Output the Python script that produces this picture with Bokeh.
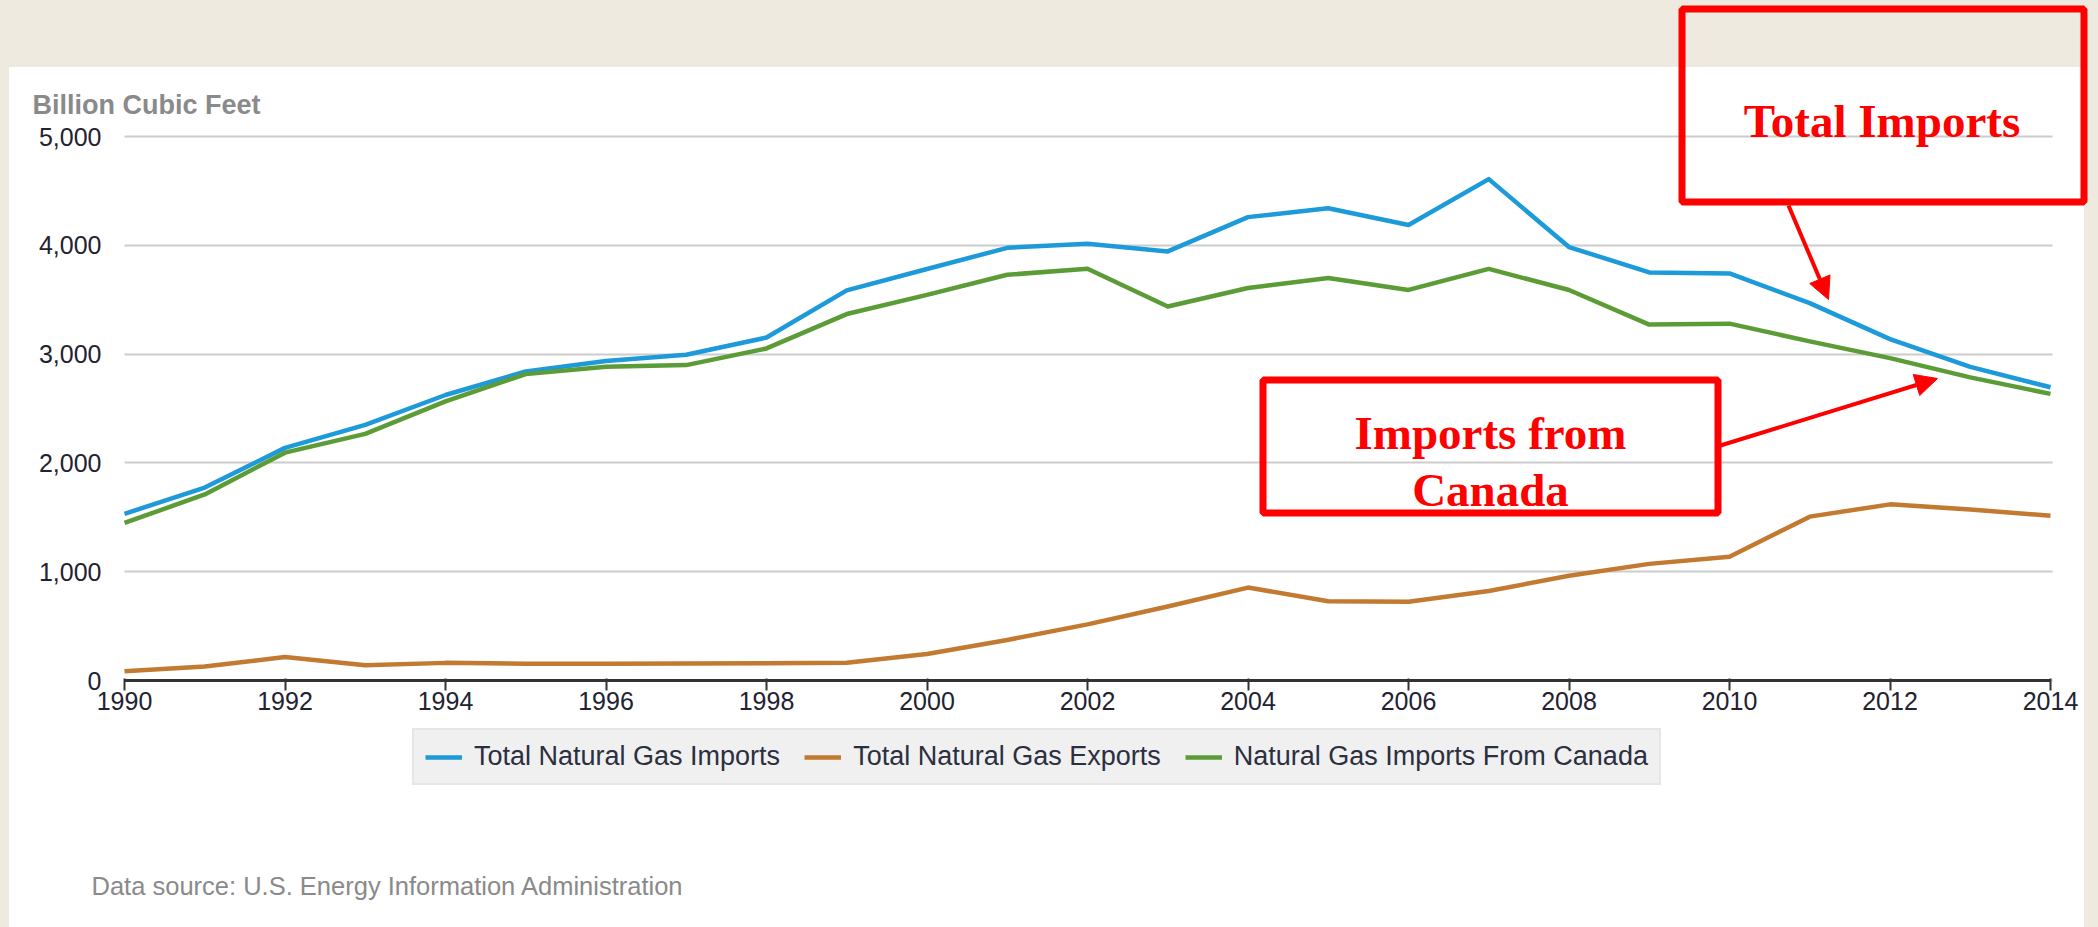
from bokeh.plotting import figure
from bokeh.models import (Range1d, SingleIntervalTicker, NumeralTickFormatter, Legend, LegendItem,
                          Label, BoxAnnotation, Arrow, NormalHead, Grid)
from bokeh.embed import file_html
from bokeh.resources import INLINE

# ---- data (Billion Cubic Feet) ----
years = list(range(1990, 2015))
total_imports = [1532, 1773, 2138, 2350, 2624, 2841, 2937, 2994, 3152, 3586, 3782, 3977, 4015,
                 3944, 4259, 4341, 4186, 4608, 3984, 3751, 3741, 3469, 3138, 2883, 2695]
total_exports = [86, 129, 216, 140, 162, 154, 153, 157, 159, 163, 244, 373, 516,
                 680, 854, 729, 724, 822, 963, 1072, 1137, 1506, 1619, 1572, 1514]
canada_imports = [1448, 1710, 2094, 2267, 2566, 2816, 2883, 2899, 3052, 3368, 3544, 3729, 3785,
                  3437, 3607, 3700, 3590, 3783, 3589, 3271, 3280, 3117, 2963, 2786, 2634]
series_names = ["Total Natural Gas Imports", "Total Natural Gas Exports",
                "Natural Gas Imports From Canada"]
series_colors = ["#1d9ad9", "#c27a31", "#5c9c37"]
x_first, x_last = 1990, 2014
y_top = 5000

# ---- layout (canvas pixels) ----
W, H = 2098, 927
PX_LEFT, PX_RIGHT = 124, 2050      # where x_first / x_last sit
PX_TOP, PX_BOTTOM = 136, 680       # where y_top / 0 sit
sx = (PX_RIGHT - PX_LEFT) / (x_last - x_first)
sy = (PX_BOTTOM - PX_TOP) / y_top
x_range = Range1d(x_first - PX_LEFT / sx, x_last + (W - PX_RIGHT) / sx)
y_range = Range1d(-(H - PX_BOTTOM) / sy, y_top + PX_TOP / sy)

p = figure(width=W, height=H, output_backend="svg", toolbar_location=None, title=None,
           x_range=x_range, y_range=y_range,
           min_border_left=0, min_border_right=0, min_border_top=0, min_border_bottom=0)
p.border_fill_alpha = 0
p.background_fill_alpha = 0
p.outline_line_color = None
p.styles = {"background": "linear-gradient(#ffffff, #ffffff) 9px 67px / 2075px 860px no-repeat, #eeeadf"}

# axes (library axes pinned to the data origin)
xa = p.xaxis[0]
xa.fixed_location = 0
xa.bounds = (x_first, x_last)
xa.ticker = SingleIntervalTicker(interval=2, num_minor_ticks=0)
xa.axis_line_color = "#333333"
xa.axis_line_width = 3
xa.major_tick_line_color = "#333333"
xa.major_tick_line_width = 2
xa.major_tick_in = 2
xa.major_tick_out = 10
xa.minor_tick_line_color = None
xa.major_label_standoff = 1
xa.major_label_text_font = "Liberation Sans"
xa.major_label_text_font_size = "25px"
xa.major_label_text_color = "#222230"

ya = p.yaxis[0]
ya.fixed_location = x_first
ya.bounds = (0, y_top)
ya.ticker = SingleIntervalTicker(interval=1000, num_minor_ticks=0)
ya.formatter = NumeralTickFormatter(format="0,0")
ya.axis_line_color = None
ya.major_tick_line_color = None
ya.minor_tick_line_color = None
ya.major_label_standoff = 17
ya.major_label_text_font = "Liberation Sans"
ya.major_label_text_font_size = "25px"
ya.major_label_text_color = "#222230"

p.xgrid.grid_line_color = None
p.ygrid.grid_line_color = "#cccccc"
p.ygrid.grid_line_width = 2
p.ygrid.bounds = (0, y_top)
if "cross_bounds" in Grid.properties():
    p.ygrid.cross_bounds = (x_first, x_last + 0.025)

renderers = []
for vals, c in zip([total_imports, total_exports, canada_imports], series_colors):
    r = p.line(years, vals, line_color=c, line_width=4.5, line_join="round")
    renderers.append(r)

legend = Legend(items=[LegendItem(label=n, renderers=[r]) for n, r in zip(series_names, renderers)],
                orientation="horizontal", location=(412, H - 785),
                border_line_color="#dcdcdc", border_line_width=2,
                background_fill_color="#f0f0f0", background_fill_alpha=1.0,
                label_text_font="Liberation Sans", label_text_font_size="27px",
                label_text_color="#2b2f40", glyph_width=37, glyph_height=20,
                label_standoff=12, spacing=24, padding=11, margin=0)
p.add_layout(legend)

# texts
p.add_layout(Label(x=32, y=104, x_units="canvas", y_units="canvas", text="Billion Cubic Feet",
                   text_font="Liberation Sans", text_font_size="27px", text_font_style="bold",
                   text_color="#8a8a8a", text_baseline="alphabetic"))
p.add_layout(Label(x=91, y=885, x_units="canvas", y_units="canvas",
                   text="Data source: U.S. Energy Information Administration",
                   text_font="Liberation Sans", text_font_size="25.5px",
                   text_color="#8a8a8a", text_baseline="alphabetic"))

# callout boxes
red = "#ff0000"
for l, r_, t, b in [(1681.5, 2083.5, 8.5, 201.5), (1262.5, 1717.5, 379.5, 512.5)]:
    p.add_layout(BoxAnnotation(left=l, right=r_, top=t, bottom=b,
                               left_units="canvas", right_units="canvas", top_units="canvas",
                               bottom_units="canvas", fill_alpha=0, line_color=red,
                               line_width=7, line_alpha=1))
for txt, x, y in [("Total Imports", 1881.5, 120), ("Imports from", 1490, 432), ("Canada", 1490, 489)]:
    p.add_layout(Label(x=x, y=y, x_units="canvas", y_units="canvas", text=txt,
                       text_font="Liberation Serif", text_font_size="47px", text_font_style="bold",
                       text_color=red, text_align="center", text_baseline="alphabetic"))

for x0, y0, x1, y1 in [(1788, 205, 1828, 299), (1720, 445, 1937, 378)]:
    p.add_layout(Arrow(x_start=x0, y_start=y0, x_end=x1, y_end=y1,
                       start_units="canvas", end_units="canvas", line_color=red, line_width=4,
                       end=NormalHead(size=22, fill_color=red, line_color=red, line_width=1)))

open("out.html", "w").write(file_html(p, INLINE))
